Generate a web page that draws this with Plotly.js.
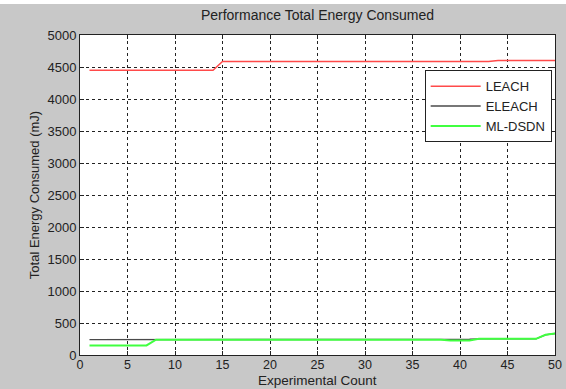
<!DOCTYPE html>
<html>
<head>
<script src="https://cdn.plot.ly/plotly-3.0.1.min.js"></script>
<style>
html,body{margin:0;padding:0;background:#ffffff;}
#chart{width:566px;height:385px;margin-top:4px;}
</style>
</head>
<body>
<div id="chart"></div>
<script>
const xCount = [1,2,3,4,5,6,7,8,9,10,11,12,13,14,15,16,17,18,19,20,21,22,23,24,25,26,27,28,29,30,31,32,33,34,35,36,37,38,39,40,41,42,43,44,45,46,47,48,49,50];
const leach = [4450,4450,4450,4450,4450,4450,4450,4450,4450,4450,4450,4450,4450,4450,4585,4585,4585,4585,4585,4585,4585,4585,4585,4585,4585,4585,4585,4585,4585,4585,4585,4585,4585,4585,4585,4585,4585,4585,4585,4585,4585,4585,4585,4600,4600,4600,4600,4600,4600,4600];
const eleach = [240,240,240,240,240,240,240,240,240,240,240,240,240,240,240,240,240,240,240,240,240,240,240,240,240,240,240,240,240,240,240,240,240,240,240,240,240,240,246,246,246,252,252,252,252,252,252,252,315,335];
const mldsdn = [150,150,150,150,150,150,150,240,240,240,240,240,240,240,240,240,240,240,240,240,240,240,240,240,240,240,240,240,240,240,240,240,240,240,240,240,240,240,226,226,226,252,252,252,252,252,252,252,315,335];
const seriesNames = ["LEACH","ELEACH","ML-DSDN"];
const xTicks = [0,5,10,15,20,25,30,35,40,45,50];
const yTicks = [0,500,1000,1500,2000,2500,3000,3500,4000,4500,5000];
const xTitle = "Experimental Count";

const family = "Liberation Sans, Arial, sans-serif";
const font = {family:family, size:13, color:"#222"};
const traces = [
  {x:xCount, y:leach, name:seriesNames[0], mode:"lines", line:{color:"#ff4a4a", width:1.5}},
  {x:xCount, y:eleach, name:seriesNames[1], mode:"lines", line:{color:"#4a4a4a", width:1.4}},
  {x:xCount, y:mldsdn, name:seriesNames[2], mode:"lines", line:{color:"#40ff40", width:2}}
];
const axisCommon = {
  showline:true, linecolor:"#222", linewidth:1, mirror:"ticks",
  ticks:"inside", ticklen:4, tickcolor:"#222",
  showgrid:true, gridcolor:"#222", griddash:"3px,3px", gridwidth:1,
  zeroline:false, tickfont:font
};
const layout = {
  width:566, height:385,
  paper_bgcolor:"#c8c8c8", plot_bgcolor:"#ffffff",
  margin:{l:80, r:11, t:31, b:34},
  font:font,
  title:{text:"Performance Total Energy Consumed", font:{family:family, size:14, color:"#222"}, xref:"paper", x:0.5, xanchor:"center", y:0.985, yanchor:"top"},
  xaxis:Object.assign({}, axisCommon, {range:[0,50], tickvals:xTicks, ticklabelstandoff:-2, tickfont:{family:family, size:12.5, color:"#222"}}),
  yaxis:Object.assign({}, axisCommon, {range:[0,5000], tickvals:yTicks, title:{text:"Total Energy Consumed (mJ)", font:font, standoff:4}}),
  annotations:[{text:xTitle, xref:"paper", yref:"paper", x:0.5, y:0, xanchor:"center", yanchor:"top", yshift:-17, borderpad:0, showarrow:false, font:{family:family, size:13.5, color:"#222"}}],
  legend:{x:0.993, xanchor:"right", y:0.89, yanchor:"top", bgcolor:"#ffffff", bordercolor:"#222", borderwidth:1, font:font, tracegroupgap:0, itemwidth:50},
  showlegend:true
};
Plotly.newPlot("chart", traces, layout, {displayModeBar:false, staticPlot:true});
</script>
</body>
</html>
